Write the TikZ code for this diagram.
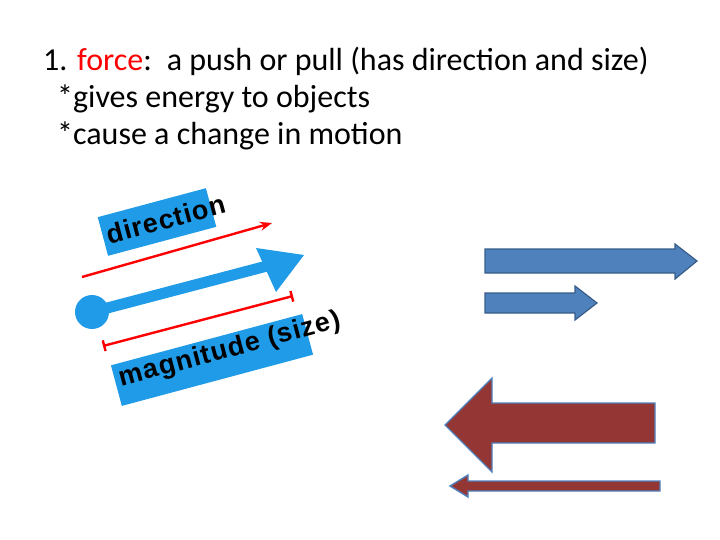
\documentclass[tikz,border=0pt]{standalone}
\usepackage{fontspec}
\setmainfont{Carlito}
\newfontfamily\arialb[LetterSpace=4]{Liberation Sans}
\usetikzlibrary{shapes.arrows,arrows.meta}
\definecolor{bl}{HTML}{4F81BD}\definecolor{bld}{HTML}{385D8A}
\definecolor{rd}{HTML}{943634}\definecolor{sky}{HTML}{1F9BE8}
\begin{document}
\begin{tikzpicture}[x=1pt,y=-1pt,
 lbl/.style={anchor=west,font=\fontsize{32}{36}\selectfont,inner sep=0},
 rot/.style={rotate=15,font=\arialb\bfseries\fontsize{27}{32}\selectfont,inner sep=0},
 rbar/.style={red,line width=2.4pt}]
\useasboundingbox (0,0) rectangle (720,540);
\node[lbl] (t1) at (43,61) {1. \textcolor{red}{force}:\, a push or pull (has direction and size)};
\node[lbl] (t2) at (57,99) {*gives energy to objects};
\node[lbl] (t3) at (57,136) {*cause a change in motion};
% direction label
\node[rot,fill=sky,minimum width=112,minimum height=40] (db) at (157,222) {};
\node[rot,anchor=center] (dt) at (166,219) {direction};
\draw[rbar,-{Stealth[length=12pt,width=9pt]}] (82,277) coordinate (d1) -- (272,223) coordinate (d2);
% blue vector
\node[circle,fill=sky,minimum size=34,inner sep=0] (c) at (92,312) {};
\draw[sky,line width=11pt] (c.center) -- (267,266) coordinate (hb);
\fill[sky] (256,248) -- (304,255) -- (276,292) -- cycle;
% magnitude
\draw[rbar,{Bar[width=11pt]}-{Bar[width=11pt]}] (103,346) coordinate (m1) -- (293,296) coordinate (m2);
\node[rot,fill=sky,minimum width=198,minimum height=42] (mb) at (212,360) {};
\node[rot,anchor=center] (mt) at (230,350) {magnitude (size)};
% right arrows
\tikzset{blarrow/.style={fill=bl,draw=bld,line width=1.2pt,line join=miter},
 rdarrow/.style={fill=rd,draw=bl,line width=1.4pt}}
\draw[blarrow] (485,249) -- (675,249) -- (675,244) -- (697,261) -- (675,279) -- (675,273) -- (485,273) -- cycle;
\draw[blarrow] (485,293) -- (575,293) -- (575,286) -- (597,303) -- (575,320) -- (575,313) -- (485,313) -- cycle;
\draw[rdarrow] (655,403) -- (492,403) -- (492,378) -- (445,425) -- (492,472) -- (492,443) -- (655,443) -- cycle;
\draw[rdarrow] (660,481) -- (468,481) -- (468,475) -- (450,486) -- (468,497) -- (468,491) -- (660,491) -- cycle;
\end{tikzpicture}
\end{document}
